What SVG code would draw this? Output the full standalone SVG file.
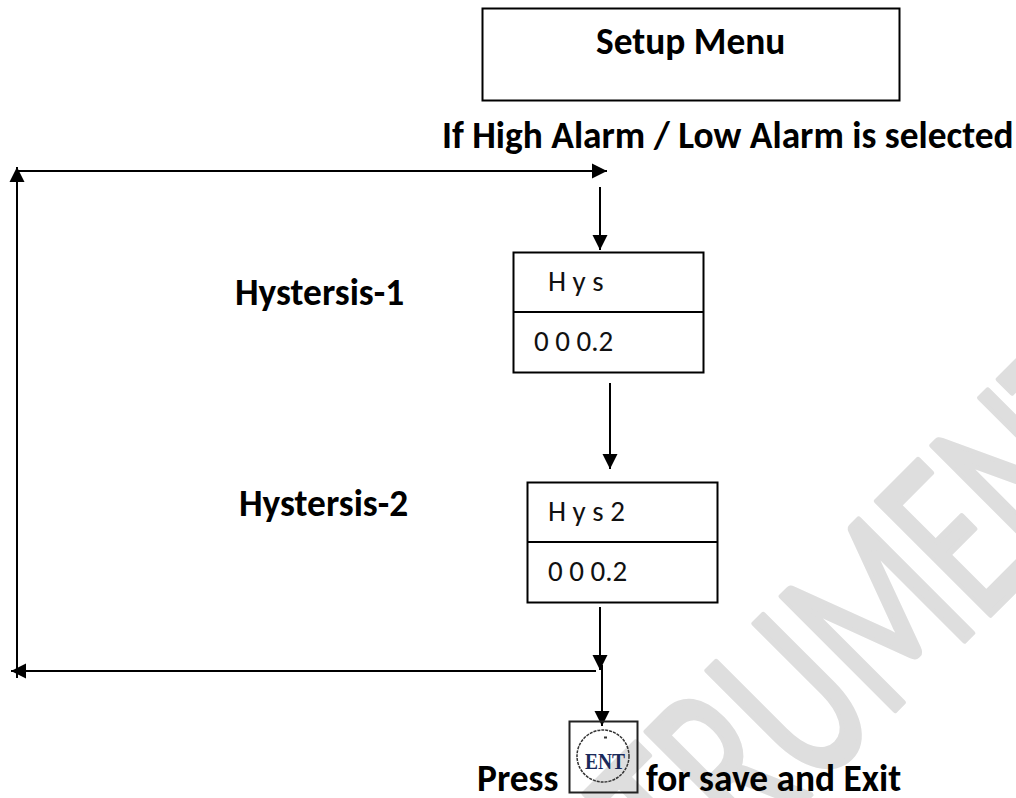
<svg xmlns="http://www.w3.org/2000/svg" width="1016" height="798" viewBox="0 0 1016 798">
<defs>
<style>
.b{font-family:"Carlito","Open Sans","Liberation Sans",sans-serif;font-weight:700;font-size:37.4px;fill:#000}
.t{font-family:"Carlito","Open Sans","Liberation Sans",sans-serif;font-size:29px;fill:#111}
.box{fill:none;stroke:#000;stroke-width:2}
.c{fill:none;stroke:#000;stroke-width:2}
.wm{font-family:"Carlito","Open Sans","Liberation Sans",sans-serif;font-size:250px;fill:#dedede;stroke:#dedede;stroke-width:6;stroke-linejoin:round}
</style>
<marker id="a" markerUnits="userSpaceOnUse" markerWidth="16" markerHeight="16" refX="15" refY="8" orient="auto"><path d="M0 0.500L15 8L0 15.500Z" fill="#000"/></marker>
</defs>
<rect width="1016" height="798" fill="#fff"/>
<text class="wm" transform="translate(696 909) rotate(-45) scale(.64 1)">TRUMENT</text>
<g id="setup"><rect class="box" x="482.500" y="8.500" width="417" height="92"/><text class="b" x="596" y="54">Setup Menu</text></g>
<g id="caption"><text class="b" x="442" y="148">If High Alarm / Low Alarm is selected</text></g>
<g id="hys1label"><text class="b" x="235" y="305">Hystersis-1</text></g>
<g id="hys1"><rect class="box" x="513.500" y="252.500" width="190" height="120"/><path class="c" d="M513 312H704"/><text class="t" x="548" y="291">H y s</text><text class="t" x="534" y="351">0 0 0.2</text></g>
<g id="hys2label"><text class="b" x="239" y="516">Hystersis-2</text></g>
<g id="hys2"><rect class="box" x="527.500" y="482.500" width="190" height="120"/><path class="c" d="M527 542H718"/><text class="t" x="548" y="521">H y s 2</text><text class="t" x="548" y="581">0 0 0.2</text></g>
<g id="connectors">
<path class="c" d="M17 171H607" marker-end="url(#a)"/>
<path class="c" d="M17 678V167" marker-end="url(#a)"/>
<path class="c" d="M596 671H11" marker-end="url(#a)"/>
<path class="c" d="M600 187V250" marker-end="url(#a)"/>
<path class="c" d="M610 383V469" marker-end="url(#a)"/>
<path class="c" d="M600 607V670" marker-end="url(#a)"/>
<path class="c" d="M602 665V726" marker-end="url(#a)"/>
</g>
<g id="press"><text class="b" x="477" y="791">Press</text><text class="b" x="646" y="791">for save and Exit</text></g>
<g id="ent"><rect x="569.500" y="721.500" width="68" height="71" fill="none" stroke="#222" stroke-width="2"/><circle cx="603" cy="756" r="26" fill="none" stroke="#333" stroke-width="1.500" stroke-dasharray="3 1"/><path d="M604 737.500h3" stroke="#333" stroke-width="2"/><text x="585" y="769" font-family="Liberation Serif,serif" font-weight="700" font-size="24" textLength="40" lengthAdjust="spacingAndGlyphs" fill="#1a2a5a">ENT</text></g>
</svg>
